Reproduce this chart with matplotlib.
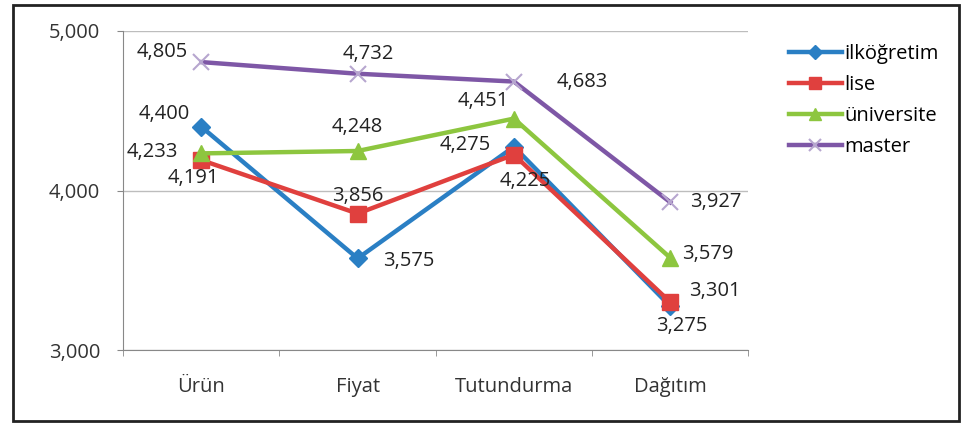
import matplotlib.pyplot as plt
from matplotlib.patches import Rectangle

plt.rcParams['font.family'] = ['Open Sans', 'DejaVu Sans']

categories = ['Ürün', 'Fiyat', 'Tutundurma', 'Dağıtım']
ilkogretim = [4.400, 3.575, 4.275, 3.275]
lise = [4.191, 3.856, 4.225, 3.301]
universite = [4.233, 4.248, 4.451, 3.579]
master = [4.805, 4.732, 4.683, 3.927]
y_ticks = [3.0, 4.0, 5.0]

# label offsets in points for each data point
off_ilk = [(-27, 9), (37, -2), (-35, 1), (8, -14)]
off_lise = [(-6, -13), (0, 13), (8, -19), (32, 8)]
off_uni = [(-35, 1), (0, 17), (-22, 13), (27, 3)]
off_master = [(-28, 7), (8, 14), (49, 0), (33, 0)]

series = [
    ('ilköğretim', ilkogretim, '#2a7fc4', 'D', 9, off_ilk),
    ('lise', lise, '#e0403e', 's', 11, off_lise),
    ('üniversite', universite, '#8dc63f', '^', 11, off_uni),
    ('master', master, '#7e57a6', 'x', 11, off_master),
]

fig = plt.figure(figsize=(9.62, 4.24), dpi=100)
ax = fig.add_axes([0.128, 0.174, 0.650, 0.753])

x = list(range(len(categories)))
for name, vals, col, mk, ms, offs in series:
    if mk == 'x':
        ax.plot(x, vals, color=col, lw=3.2, marker=mk, ms=ms, mec='#b7a6cf',
                mew=1.5, label=name, zorder=3)
    else:
        ax.plot(x, vals, color=col, lw=3.2, marker=mk, ms=ms, mec=col,
                label=name, zorder=3)
    for xi, v, (dx, dy) in zip(x, vals, offs):
        ax.annotate(f'{v:.3f}'.replace('.', ','), (xi, v), xytext=(dx, dy),
                    textcoords='offset points', ha='center', va='center',
                    fontsize=14.5, color='#222222', zorder=4)

ax.set_xlim(-0.5, 3.5)
ax.set_ylim(3.0, 5.0)
ax.set_yticks(y_ticks)
ax.set_yticklabels([f'{t:.3f}'.replace('.', ',') for t in y_ticks], fontsize=14.5)
ax.set_xticks(x)
ax.set_xticklabels(categories, fontsize=14.5)
ax.set_xticks([-0.5, 0.5, 1.5, 2.5, 3.5], minor=True)
ax.tick_params(axis='x', which='major', length=0, pad=19, colors='#333333')
ax.tick_params(axis='x', which='minor', length=4.5, color='#888888', direction='out')
ax.tick_params(axis='y', length=4.5, pad=12, colors='#333333')
ax.tick_params(axis='y', color='#888888')
ax.grid(axis='y', color='#bdbdbd', lw=1)
ax.set_axisbelow(True)
for s in ['top', 'right']:
    ax.spines[s].set_visible(False)
for s in ['left', 'bottom']:
    ax.spines[s].set_color('#888888')

fig.legend(loc='upper left', bbox_to_anchor=(0.812, 0.915), frameon=False,
           fontsize=14.5, handlelength=2.6, handletextpad=0.15, labelspacing=0.55,
           markerscale=0.75, borderaxespad=0)

fig.patches.append(Rectangle((0.013, 0.006), 0.984, 0.982, transform=fig.transFigure,
                             fill=False, ec='#222222', lw=2))

fig.savefig('out.png', dpi=100)
